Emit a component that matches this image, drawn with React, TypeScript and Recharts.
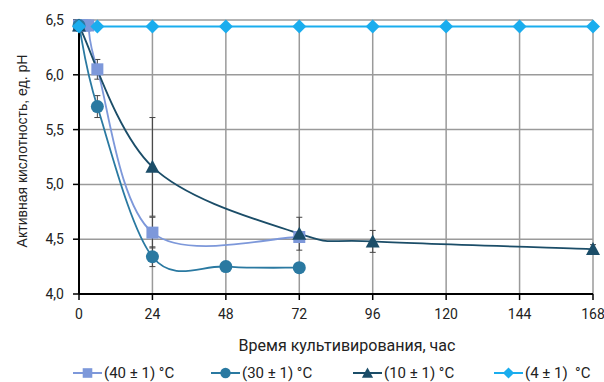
import React from 'react';
import { LineChart, Line, XAxis, YAxis, CartesianGrid, ErrorBar, Legend } from 'recharts';

const xTicks = [0, 24, 48, 72, 96, 120, 144, 168];
const yTicks = [4.0, 4.5, 5.0, 5.5, 6.0, 6.5];

const hours40 = [0, 1, 2, 3, 6, 24, 72];
const ph40 = [6.45, 6.45, 6.45, 6.45, 6.05, 4.56, 4.52];
const err40 = [0, 0, 0, 0, 0.09, 0.14, 0.05];

const hours30 = [0, 6, 24, 48, 72];
const ph30 = [6.45, 5.71, 4.34, 4.25, 4.24];
const err30 = [0, 0.1, 0.09, 0, 0];

const hours10 = [0, 24, 72, 96, 168];
const ph10 = [6.45, 5.16, 4.55, 4.48, 4.41];
const err10 = [0, 0.45, 0.15, 0.1, 0.04];

const hours4 = [0, 6, 24, 48, 72, 96, 120, 144, 168];
const ph4 = [6.44, 6.44, 6.44, 6.44, 6.44, 6.44, 6.44, 6.44, 6.44];

const seriesNames = ['(40 ± 1) °C', '(30 ± 1) °C', '(10 ± 1) °C', '(4 ± 1)  °C'];
const colors = ['#7d98da', '#2a79a1', '#1b4d68', '#1aadee'];
const shapes = ['square', 'circle', 'triangle', 'diamond'];

const build = (h: number[], v: number[], e?: number[]) =>
  h.map((x, i) => ({ x, y: v[i], err: e ? e[i] : 0 }));

const data40 = build(hours40, ph40, err40);
const data30 = build(hours30, ph30, err30);
const data10 = build(hours10, ph10, err10);
const data4 = build(hours4, ph4);

// Catmull-Rom style smoothing (similar to spreadsheet "smoothed line")
const smoothCurve: any = (context: any) => {
  let pts: number[][] = [];
  return {
    areaStart() {},
    areaEnd() {},
    lineStart() {
      pts = [];
    },
    point(x: number, y: number) {
      pts.push([+x, +y]);
    },
    lineEnd() {
      if (!pts.length) return;
      context.moveTo(pts[0][0], pts[0][1]);
      for (let i = 0; i < pts.length - 1; i++) {
        const p0 = pts[i - 1] || pts[i];
        const p1 = pts[i];
        const p2 = pts[i + 1];
        const p3 = pts[i + 2] || p2;
        context.bezierCurveTo(
          p1[0] + (p2[0] - p0[0]) / 6,
          p1[1] + (p2[1] - p0[1]) / 6,
          p2[0] - (p3[0] - p1[0]) / 6,
          p2[1] - (p3[1] - p1[1]) / 6,
          p2[0],
          p2[1]
        );
      }
    },
  };
};

const Marker = ({ shape, cx, cy, color, s = 1 }: { shape: string; cx: number; cy: number; color: string; s?: number }) => {
  if (shape === 'square') return <rect x={cx - 6 * s} y={cy - 6 * s} width={12 * s} height={12 * s} fill={color} />;
  if (shape === 'circle') return <circle cx={cx} cy={cy} r={6.5 * s} fill={color} />;
  if (shape === 'triangle')
    return (
      <polygon
        points={`${cx},${cy - 7 * s} ${cx + 7 * s},${cy + 6 * s} ${cx - 7 * s},${cy + 6 * s}`}
        fill={color}
      />
    );
  return (
    <polygon
      points={`${cx},${cy - 7 * s} ${cx + 7 * s},${cy} ${cx},${cy + 7 * s} ${cx - 7 * s},${cy}`}
      fill={color}
    />
  );
};

const makeDot = (si: number) => (props: any) => {
  const { cx, cy, index } = props;
  if (cx == null || cy == null) return <g key={`n-${si}-${index}`} />;
  return <Marker key={`d-${si}-${index}`} shape={shapes[si]} cx={cx} cy={cy} color={colors[si]} />;
};

const fmt = (v: number) => v.toFixed(1).replace('.', ',');

const legendLefts = [73, 211, 353, 494];

const LegendContent = () => (
  <div style={{ position: 'relative', width: 604, height: 18 }}>
    {seriesNames.map((name, i) => (
      <div
        key={name}
        style={{
          position: 'absolute',
          left: legendLefts[i],
          top: 0,
          height: 18,
          display: 'flex',
          alignItems: 'center',
          fontFamily: 'Roboto, sans-serif',
          fontSize: 15,
          lineHeight: '18px',
          color: '#222',
          whiteSpace: 'pre',
        }}
      >
        <svg width={29} height={14} style={{ marginRight: 2 }}>
          <line x1={0} y1={7} x2={29} y2={7} stroke={colors[i]} strokeWidth={2} />
          <Marker shape={shapes[i]} cx={14.5} cy={7} color={colors[i]} s={0.8} />
        </svg>
        <span>{name}</span>
      </div>
    ))}
  </div>
);

export default function App() {
  const tickStyle = { fontFamily: 'Roboto, sans-serif', fontSize: 14, fill: '#222' };
  return (
    <div style={{ position: 'absolute', left: 0, top: 0, width: 604, height: 382, background: '#fff' }}>
      <LineChart width={604} height={382} margin={{ top: 20, right: 11, left: 0, bottom: 0 }}>
        <CartesianGrid stroke="#9a9a9a" strokeWidth={1.5} />
        <XAxis
          type="number"
          dataKey="x"
          domain={[0, 168]}
          ticks={xTicks}
          interval={0}
          allowDuplicatedCategory={false}
          height={70}
          tick={tickStyle}
          tickSize={6}
          tickMargin={9}
          axisLine={{ stroke: '#000', strokeWidth: 2 }}
          tickLine={{ stroke: '#000', strokeWidth: 1.5 }}
          label={{
            content: (p: any) => {
              const vb = p.viewBox || {};
              return (
                <text
                  x={347}
                  y={vb.y + 57}
                  textAnchor="middle"
                  fontFamily="Roboto, sans-serif"
                  fontSize={16}
                  fill="#222"
                >
                  Время культивирования, час
                </text>
              );
            },
          }}
        />
        <YAxis
          type="number"
          domain={[4, 6.5]}
          ticks={yTicks}
          interval={0}
          width={79}
          tick={tickStyle}
          tickFormatter={fmt}
          tickSize={6}
          tickMargin={9}
          axisLine={{ stroke: '#000', strokeWidth: 2 }}
          tickLine={{ stroke: '#000', strokeWidth: 1.5 }}
          label={{
            content: () => (
              <text
                x={27}
                y={151}
                transform="rotate(-90 27 151)"
                textAnchor="middle"
                fontFamily="'Liberation Sans', Arial, sans-serif"
                fontSize={14}
                fill="#222"
              >
                Активная кислотность, ед. pH
              </text>
            ),
          }}
        />
        <Legend
          verticalAlign="bottom"
          content={<LegendContent />}
          wrapperStyle={{ position: 'absolute', left: 0, top: 364, bottom: 'auto', width: 604, height: 18 }}
        />
        <Line
          data={data40}
          dataKey="y"
          name={seriesNames[0]}
          type={smoothCurve}
          stroke={colors[0]}
          strokeWidth={1.8}
          dot={makeDot(0)}
          activeDot={false}
          isAnimationActive={false}
        >
          <ErrorBar dataKey="err" width={3} stroke="#444" strokeWidth={1} direction="y" />
        </Line>
        <Line
          data={data30}
          dataKey="y"
          name={seriesNames[1]}
          type={smoothCurve}
          stroke={colors[1]}
          strokeWidth={1.8}
          dot={makeDot(1)}
          activeDot={false}
          isAnimationActive={false}
        >
          <ErrorBar dataKey="err" width={3} stroke="#444" strokeWidth={1} direction="y" />
        </Line>
        <Line
          data={data10}
          dataKey="y"
          name={seriesNames[2]}
          type={smoothCurve}
          stroke={colors[2]}
          strokeWidth={1.8}
          dot={makeDot(2)}
          activeDot={false}
          isAnimationActive={false}
        >
          <ErrorBar dataKey="err" width={3} stroke="#444" strokeWidth={1} direction="y" />
        </Line>
        <Line
          data={data4}
          dataKey="y"
          name={seriesNames[3]}
          type="linear"
          stroke={colors[3]}
          strokeWidth={2}
          dot={makeDot(3)}
          activeDot={false}
          isAnimationActive={false}
        />
      </LineChart>
    </div>
  );
}
